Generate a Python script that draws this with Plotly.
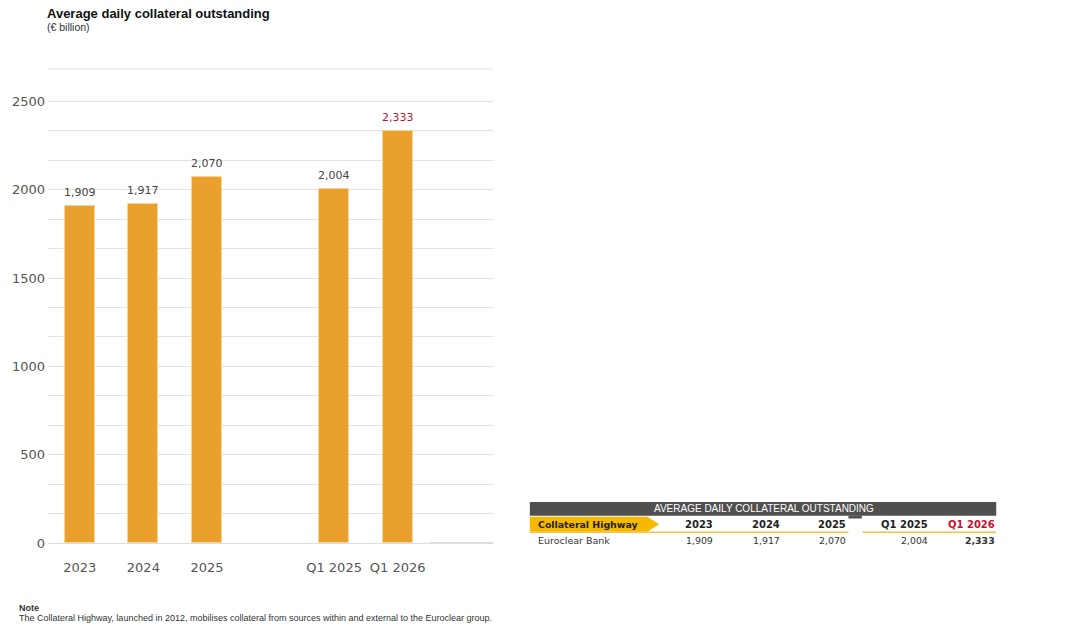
import plotly.graph_objects as go

# ---- data ----
categories = ["2023", "2024", "2025", "Q1 2025", "Q1 2026"]
values = [1909, 1917, 2070, 2004, 2333]
axis_slots = ["2023", "2024", "2025", " ", "Q1 2025", "Q1 2026", "  "]
highlight = "Q1 2026"
y_ticks = [0, 500, 1000, 1500, 2000, 2500]
title_text = "Average daily collateral outstanding"
subtitle_text = "(€ billion)"
table_title = "AVERAGE DAILY COLLATERAL OUTSTANDING"
table_row_head = "Collateral Highway"
table_row_name = "Euroclear Bank"
note_head = "Note"
note_text = ("The Collateral Highway, launched in 2012, mobilises collateral from sources "
             "within and external to the Euroclear group.")

W, H = 1072, 637
L, R, T, B = 46, 493, 69, 543
BAR = "#E9A02C"
RED = "#C8102E"
GREY = "#555555"
FONT = "DejaVu Sans"
SANS = "Liberation Sans"
PADL = 3.5   # annotation inner offset compensation

fig = go.Figure()
fig.add_trace(go.Bar(
    x=categories, y=values, width=0.47,
    marker=dict(color=BAR, line=dict(color="#F6D49A", width=1)),
    hoverinfo="skip", showlegend=False,
))

annotations = []
for c, v in zip(categories, values):
    annotations.append(dict(
        x=axis_slots.index(c), y=v, xref="x", yref="y", text=f"{v:,}", showarrow=False,
        yanchor="bottom", yshift=5,
        font=dict(family=FONT, size=11, color=RED if c == highlight else "#444"),
    ))

def px(xp):
    return (xp - L) / (R - L)

def py(yp):
    return (B - yp) / (B - T)

# titles
annotations += [
    dict(x=px(46 - PADL), y=py(14), xref="paper", yref="paper", text=f"<b>{title_text}</b>",
         showarrow=False, xanchor="left", yanchor="middle",
         font=dict(family=SANS, size=13, color="#111")),
    dict(x=px(46 - PADL), y=py(26.5), xref="paper", yref="paper", text=subtitle_text,
         showarrow=False, xanchor="left", yanchor="middle",
         font=dict(family=SANS, size=10.5, color="#333")),
    dict(x=px(18 - PADL), y=py(607.5), xref="paper", yref="paper", text=f"<b>{note_head}</b>",
         showarrow=False, xanchor="left", yanchor="middle",
         font=dict(family=SANS, size=9, color="#333")),
    dict(x=px(18 - PADL), y=py(618), xref="paper", yref="paper", text=note_text,
         showarrow=False, xanchor="left", yanchor="middle",
         font=dict(family=SANS, size=9, color="#333")),
]

# table
shapes = []
shapes.append(dict(type="rect", xref="paper", yref="paper",
                   x0=px(530), x1=px(998.5), y0=py(515.7), y1=py(502),
                   fillcolor="#505050", line=dict(width=0), layer="above"))
shapes.append(dict(type="rect", xref="paper", yref="paper",
                   x0=px(850), x1=px(863.5), y0=py(518.5), y1=py(515.5),
                   fillcolor="#505050", line=dict(width=0), layer="above"))
shapes.append(dict(type="path", xref="paper", yref="paper",
                   path=(f"M {px(530)},{py(516.7)} L {px(648)},{py(516.7)} "
                         f"L {px(660)},{py(524.2)} L {px(648)},{py(531.7)} "
                         f"L {px(530)},{py(531.7)} Z"),
                   fillcolor="#F7B900", line=dict(width=0), layer="above"))
for x0, x1 in [(530, 850), (864, 998.5)]:
    shapes.append(dict(type="line", xref="paper", yref="paper",
                       x0=px(x0), x1=px(x1), y0=py(532.3), y1=py(532.3),
                       line=dict(color="#F5C340", width=1.6), layer="above"))

annotations.append(dict(x=px(765), y=py(508.6), xref="paper", yref="paper",
                        text=table_title, showarrow=False, xanchor="center",
                        yanchor="middle",
                        font=dict(family=SANS, size=10, color="white")))
annotations.append(dict(x=px(540 - PADL), y=py(524.5), xref="paper", yref="paper",
                        text=f"<b>{table_row_head}</b>", showarrow=False,
                        xanchor="left", yanchor="middle",
                        font=dict(family=FONT, size=9.4, color="#222")))
annotations.append(dict(x=px(540 - PADL), y=py(540.5), xref="paper", yref="paper",
                        text=table_row_name, showarrow=False,
                        xanchor="left", yanchor="middle",
                        font=dict(family=FONT, size=9.5, color="#333")))
col_right = [712.5, 779.5, 846, 928, 995.5]
for c, v, xr in zip(categories, values, col_right):
    hl = c == highlight
    annotations.append(dict(x=px(xr + PADL), y=py(524.5), xref="paper", yref="paper",
                            text=f"<b>{c}</b>", showarrow=False,
                            xanchor="right", yanchor="middle",
                            font=dict(family=FONT, size=10,
                                      color=RED if hl else "#222")))
    annotations.append(dict(x=px(xr + PADL), y=py(540.5), xref="paper", yref="paper",
                            text=f"<b>{v:,}</b>" if hl else f"{v:,}",
                            showarrow=False, xanchor="right", yanchor="middle",
                            font=dict(family=FONT, size=9.4, color="#333")))

# chart-level lines
shapes.append(dict(type="line", xref="x domain", yref="y domain",
                   x0=0, x1=1, y0=1, y1=1,
                   line=dict(color="#E2E2E2", width=1), layer="below"))
shapes.append(dict(type="line", xref="x", yref="y",
                   x0=5.5, x1=6.5, y0=0, y1=0,
                   line=dict(color="#BBBBBB", width=1), layer="above"))

minor_grid = [i * 500 / 3 for i in range(1, 16) if i % 3]

fig.update_layout(
    width=W, height=H,
    margin=dict(l=L, r=W - R, t=T, b=H - B),
    paper_bgcolor="white", plot_bgcolor="white",
    bargap=0,
    xaxis=dict(type="category", categoryorder="array", categoryarray=axis_slots,
               range=[-0.5, len(axis_slots) - 0.5],
               tickfont=dict(family=FONT, size=13, color=GREY),
               showgrid=False, showline=False, ticks="", ticklabelstandoff=15),
    yaxis=dict(range=[0, 2683], tickvals=y_ticks, ticktext=[str(t) for t in y_ticks],
               tickfont=dict(family=FONT, size=13, color=GREY),
               showgrid=True, gridcolor="#E2E2E2", gridwidth=1,
               zeroline=True, zerolinecolor="#DDDDDD", zerolinewidth=1,
               ticks="", ticklabelstandoff=2, showline=False,
               minor=dict(tickvals=minor_grid, showgrid=True,
                          gridcolor="#E2E2E2", gridwidth=1, ticks="")),
    annotations=annotations,
    shapes=shapes,
)

fig.write_html("out.html")
